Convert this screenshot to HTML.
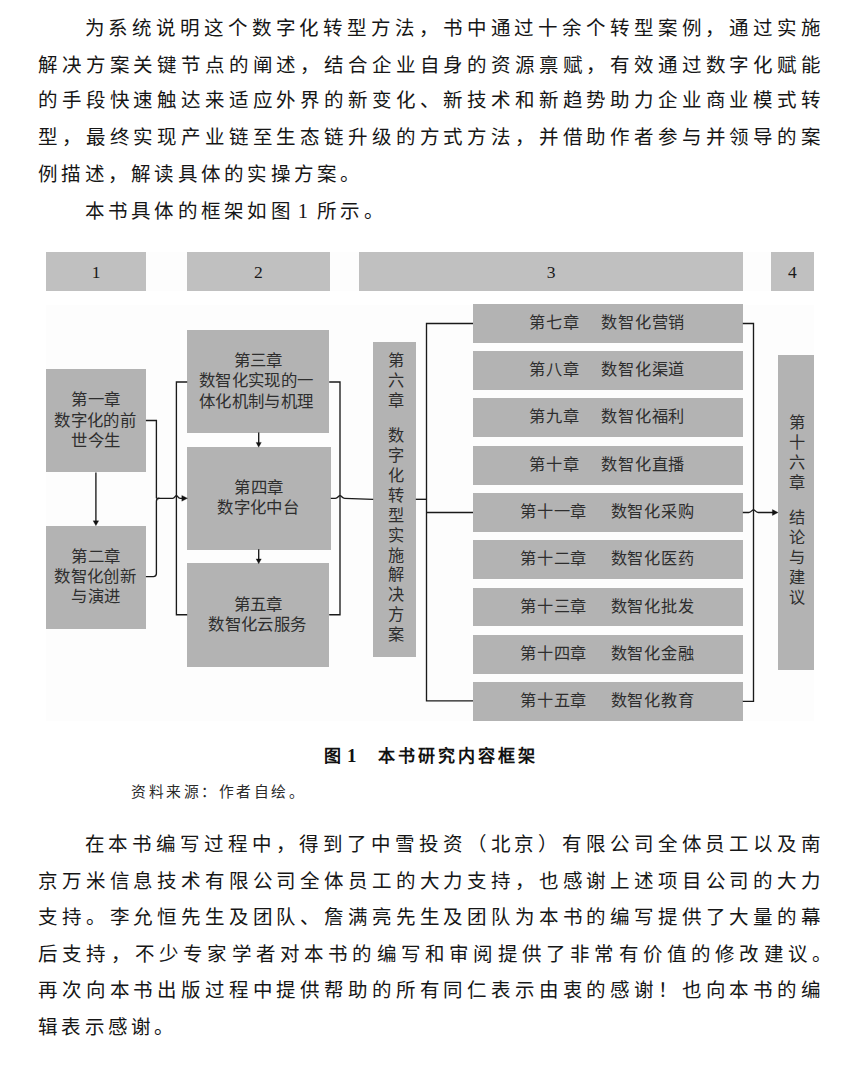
<!DOCTYPE html>
<html lang="zh-CN">
<head>
<meta charset="utf-8">
<title>图1 本书研究内容框架</title>
<style>
html,body{margin:0;padding:0;background:#fff;}
body{width:861px;height:1068px;position:relative;overflow:hidden;
  font-family:"Liberation Serif",serif;color:#111;}
.ln{position:absolute;left:38px;width:783px;height:36px;line-height:36px;
  font-size:19.5px;text-align:justify;text-align-last:justify;white-space:nowrap;color:#161616;}
.ln.last{text-align:left;text-align-last:left;letter-spacing:3.25px;}
.ln.ind{left:84.5px;width:736.5px;}
/* diagram */
#dia{position:absolute;left:0;top:0;width:861px;height:740px;}
.bg{position:absolute;background:#fdfdfd;}
.hd{position:absolute;background:#c0c0c0;height:38.6px;top:252px;line-height:41px;
  text-align:center;font-size:17.5px;color:#1a1a1a;}
.bx{position:absolute;background:#b3b3b3;color:#2e2e2e;font-size:16.4px;line-height:20.2px;letter-spacing:.4px;
  text-align:center;display:flex;align-items:center;justify-content:center;white-space:nowrap;}
.row{position:absolute;left:473px;width:269.8px;height:38.8px;background:#b3b3b3;color:#2e2e2e;
  font-size:16.2px;line-height:39px;letter-spacing:.8px;text-align:center;white-space:nowrap;box-sizing:border-box;padding-right:1.2px;}
.row i{font-style:normal;display:inline-block;width:21.5px;}
.row.w i{width:23.5px;}
.vt{position:absolute;background:#b3b3b3;color:#2e2e2e;font-size:16.2px;text-align:center;}
.vt span{display:block;height:19.9px;line-height:19.9px;}
.vt span.gap{height:15px;}
.s1{position:relative;left:-.8px}.s2{position:relative;left:-2px}
svg{position:absolute;left:0;top:0;}
.cap{position:absolute;left:324px;top:745px;height:22px;line-height:22px;font-size:17px;
  font-weight:bold;letter-spacing:3.1px;white-space:nowrap;color:#111;}
.src{position:absolute;left:131px;top:782px;height:21px;line-height:21px;font-size:14.8px;
  letter-spacing:2.5px;white-space:nowrap;color:#2a2a2a;}
</style>
</head>
<body>
<!-- paragraph 1 -->
<div class="ln ind" style="top:11px">为系统说明这个数字化转型方法，书中通过十余个转型案例，通过实施</div>
<div class="ln" style="top:47.5px">解决方案关键节点的阐述，结合企业自身的资源禀赋，有效通过数字化赋能</div>
<div class="ln" style="top:83px">的手段快速触达来适应外界的新变化、新技术和新趋势助力企业商业模式转</div>
<div class="ln" style="top:120px">型，最终实现产业链至生态链升级的方式方法，并借助作者参与并领导的案</div>
<div class="ln last" style="top:157px">例描述，解读具体的实操方案。</div>
<div class="ln last ind" style="top:193px">本书具体的框架如图<span style="letter-spacing:0;font-size:20.5px;margin:0 9px 0 4px">1</span>所示。</div>

<div id="dia">
  <div class="bg" style="left:46px;top:252px;width:768px;height:39px"></div>
  <div class="bg" style="left:46px;top:305px;width:768px;height:415.5px"></div>
  <!-- header row -->
  <div class="hd" style="left:46px;width:100px">1</div>
  <div class="hd" style="left:186.7px;width:143.5px">2</div>
  <div class="hd" style="left:359px;width:384px">3</div>
  <div class="hd" style="left:770.8px;width:43.2px">4</div>

  <!-- left column -->
  <div class="bx" style="left:46.2px;top:369.2px;width:99.7px;height:103.2px"><div>第一章<br><span class="s1">数字化的前</span><br>世今生</div></div>
  <div class="bx" style="left:46.2px;top:525.5px;width:99.7px;height:103.3px"><div>第二章<br><span class="s1">数智化创新</span><br>与演进</div></div>

  <!-- middle column -->
  <div class="bx" style="left:187.2px;top:330.2px;width:142px;height:102.8px"><div>第三章<br><span class="s2">数智化实现的一</span><br><span class="s2">体化机制与机理</span></div></div>
  <div class="bx" style="left:187.2px;top:447px;width:143.6px;height:102.8px"><div>第四章<br><span class="s1">数字化中台</span></div></div>
  <div class="bx" style="left:187.2px;top:563.3px;width:142px;height:103.3px"><div>第五章<br><span class="s1">数智化云服务</span></div></div>

  <!-- chapter 6 vertical -->
  <div class="vt" style="left:373.2px;top:341.8px;width:42.6px;height:315px;padding-top:10.7px;padding-left:2.4px;box-sizing:border-box">
    <span>第</span><span>六</span><span>章</span><span class="gap"></span><span>数</span><span>字</span><span>化</span><span>转</span><span>型</span><span>实</span><span>施</span><span>解</span><span>决</span><span>方</span><span>案</span>
  </div>

  <!-- rows ch7 - ch15 -->
  <div class="row" style="top:303.9px">第七章<i></i>数智化营销</div>
  <div class="row" style="top:351.2px">第八章<i></i>数智化渠道</div>
  <div class="row" style="top:398.4px">第九章<i></i>数智化福利</div>
  <div class="row" style="top:446px">第十章<i></i>数智化直播</div>
  <div class="row w" style="top:493.1px">第十一章<i></i>数智化采购</div>
  <div class="row w" style="top:540.3px">第十二章<i></i>数智化医药</div>
  <div class="row w" style="top:587.6px">第十三章<i></i>数智化批发</div>
  <div class="row w" style="top:634.9px">第十四章<i></i>数智化金融</div>
  <div class="row w" style="top:682px">第十五章<i></i>数智化教育</div>

  <!-- chapter 16 vertical -->
  <div class="vt" style="left:777.8px;top:354.7px;width:36px;height:315.4px;padding-top:59.6px;padding-left:3px;box-sizing:border-box">
    <span>第</span><span>十</span><span>六</span><span>章</span><span class="gap" style="height:15.2px"></span><span>结</span><span>论</span><span>与</span><span>建</span><span>议</span>
  </div>

  <!-- connectors -->
  <svg width="861" height="740" viewBox="0 0 861 740" fill="none" stroke="#1a1a1a" stroke-width="1.35">
    <!-- ch1 -> ch2 -->
    <path d="M95.9 472.4V521"/>
    <path d="M93.1 520.8H98.7L95.9 525.7Z" fill="#111" stroke="#111" stroke-width=".3"/>
    <!-- ch1 right -> merge -->
    <path d="M145.9 420.5H156.4V498.2"/>
    <!-- ch2 right -> merge (rounded) -->
    <path d="M145.9 576.6H153.4Q156.4 576.6 156.4 573.6V501.2Q156.4 498.2 159.4 498.2"/>
    <!-- merge -> ch4 with bump over x=176.4 -->
    <path d="M156.4 498.3H172.6C174.9 498.3 175.1 495.6 176.4 495.6C177.7 495.6 177.9 498.3 180.2 498.3H182.5"/>
    <path d="M181.8 495.4V501.2L187.5 498.3Z" fill="#111" stroke="#111" stroke-width=".3"/>
    <!-- left bracket ch3 / ch5 -->
    <path d="M187.2 382H176.4V614.7H187.2"/>
    <!-- right bracket ch3 / ch5 -->
    <path d="M329.2 382H340V614.7H329.2"/>
    <!-- ch3 -> ch4, ch4 -> ch5 arrows -->
    <path d="M258.7 432.4V443"/>
    <path d="M256.1 442.4H261.3L258.7 447.2Z" fill="#111" stroke="#111" stroke-width=".3"/>
    <path d="M258.7 549.2V559.6"/>
    <path d="M256.1 558.9H261.3L258.7 563.7Z" fill="#111" stroke="#111" stroke-width=".3"/>
    <!-- ch4 -> ch6 with bump -->
    <path d="M330.8 498.3H335.3C338.0 498.3 338.3 495.6 340 495.6C341.7 495.6 342.0 498.3 344.7 498.3L373.2 499.4"/>
    <!-- ch6 -> bracket -->
    <path d="M415.8 499.3H426.5"/>
    <!-- bracket to rows -->
    <path d="M473 323.5H426.5V700.9H473"/>
    <path d="M426.5 512.5H473"/>
    <!-- right bracket from rows -->
    <path d="M742.8 323.5H753.5V701.3H742.8"/>
    <!-- ch11 -> ch16 with bump -->
    <path d="M742.8 512.5H748.8C751.5 512.5 751.8 509.8 753.5 509.8C755.2 509.8 755.5 512.5 758.2 512.5H773"/>
    <path d="M772.4 509.6V515.4L778.1 512.5Z" fill="#111" stroke="#111" stroke-width=".3"/>
  </svg>
</div>

<div class="cap">图<span style="font-size:19px;margin:0 21px 0 3px;letter-spacing:0">1</span>本书研究内容框架</div>
<div class="src">资料来源：作者自绘。</div>

<!-- paragraph 2 -->
<div class="ln ind" style="top:827px">在本书编写过程中，得到了中雪投资（北京）有限公司全体员工以及南</div>
<div class="ln" style="top:863.5px">京万米信息技术有限公司全体员工的大力支持，也感谢上述项目公司的大力</div>
<div class="ln" style="top:900px">支持。李允恒先生及团队、詹满亮先生及团队为本书的编写提供了大量的幕</div>
<div class="ln" style="top:936.5px;width:794px">后支持，不少专家学者对本书的编写和审阅提供了非常有价值的修改建议。</div>
<div class="ln" style="top:973px">再次向本书出版过程中提供帮助的所有同仁表示由衷的感谢！也向本书的编</div>
<div class="ln last" style="top:1009.5px">辑表示感谢。</div>
</body>
</html>
